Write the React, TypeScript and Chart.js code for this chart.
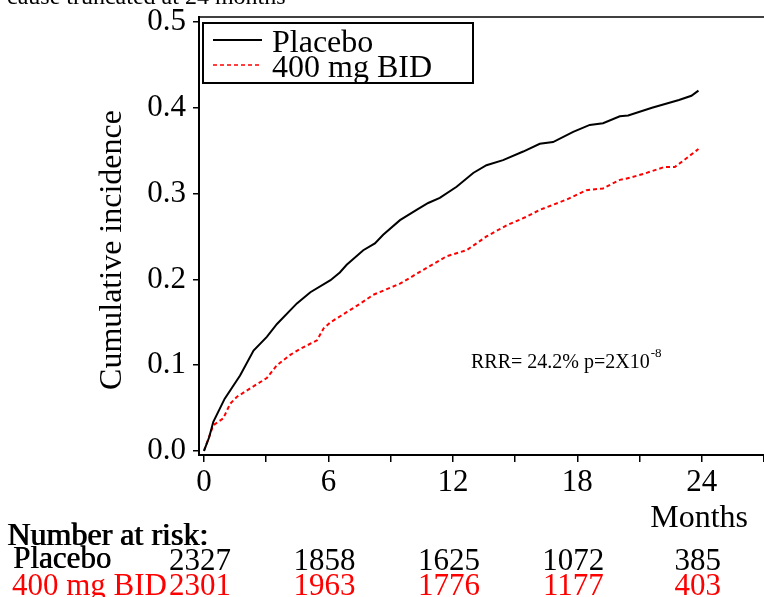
import React, { useEffect, useRef } from "react";
import { Chart, registerables } from "chart.js";

Chart.register(...registerables);

const titleText = "cause truncated at 24 months";
const yAxisTitle = "Cumulative incidence";
const xAxisTitle = "Months";
const seriesNames = ["Placebo", "400 mg BID"];
const seriesColors = ["#000000", "#ff0000"];

const placeboMonths = [0, 0.25, 0.45, 1.0, 1.74, 2.39, 3.03, 3.52, 4.48, 5.13, 6.1, 6.55, 6.88, 7.68, 8.24, 8.64, 9.45, 10.25, 10.81, 11.37, 12.18, 12.98, 13.62, 14.42, 15.39, 16.19, 16.83, 17.8, 18.6, 19.24, 20.05, 20.45, 21.6, 22.9, 23.5, 23.84];
const placeboValues = [0, 0.016, 0.034, 0.061, 0.088, 0.117, 0.133, 0.148, 0.172, 0.185, 0.199, 0.208, 0.217, 0.234, 0.242, 0.252, 0.269, 0.281, 0.289, 0.295, 0.308, 0.324, 0.333, 0.339, 0.349, 0.358, 0.36, 0.372, 0.38, 0.382, 0.39, 0.391, 0.4, 0.409, 0.414, 0.42];

const bidMonths = [0, 0.45, 0.93, 1.26, 1.58, 2.23, 3.03, 3.52, 4.16, 4.64, 5.45, 5.77, 6.1, 6.9, 7.55, 8.16, 9.45, 10.57, 11.7, 12.66, 13.62, 14.59, 15.55, 16.19, 17.48, 18.44, 19.24, 20.05, 20.3, 21.2, 22.2, 22.7, 23.2, 23.84];
const bidValues = [0, 0.03, 0.038, 0.055, 0.063, 0.073, 0.085, 0.1, 0.112, 0.119, 0.129, 0.143, 0.15, 0.162, 0.172, 0.182, 0.195, 0.211, 0.227, 0.234, 0.25, 0.263, 0.273, 0.281, 0.293, 0.304, 0.306, 0.316, 0.317, 0.323, 0.331, 0.331, 0.34, 0.352];

const yTickValues = [0, 0.1, 0.2, 0.3, 0.4, 0.5];
const xTickValues = [0, 3, 6, 9, 12, 15, 18, 21, 24, 27];
const xLabelValues = [0, 6, 12, 18, 24];

const riskHeader = "Number at risk:";
const riskTimes = [0, 6, 12, 18, 24];
const riskPlacebo = [2327, 1858, 1625, 1072, 385];
const riskBid = [2301, 1963, 1776, 1177, 403];

const annotationText = "RRR= 24.2% p=2X10";
const annotationExp = "-8";

const FONT = '"Liberation Serif", "Times New Roman", serif';

const overlayPlugin = {
  id: "overlay",
  afterDraw(chart: any) {
    const ctx = chart.ctx as CanvasRenderingContext2D;
    const area = chart.chartArea;
    const xs = chart.scales.x;
    ctx.save();

    // top frame line
    ctx.strokeStyle = "#000";
    ctx.lineWidth = 1.5;
    ctx.beginPath();
    ctx.moveTo(area.left, area.top);
    ctx.lineTo(area.right, area.top);
    ctx.stroke();

    // title (partly cut off)
    ctx.fillStyle = "#000";
    ctx.textAlign = "left";
    ctx.textBaseline = "alphabetic";
    ctx.font = `24px ${FONT}`;
    ctx.fillText(titleText, 7, 4);

    // y axis title
    ctx.save();
    ctx.translate(113, 250);
    ctx.rotate(-Math.PI / 2);
    ctx.textAlign = "center";
    ctx.textBaseline = "middle";
    ctx.font = `32px ${FONT}`;
    ctx.fillText(yAxisTitle, 0, 0);
    ctx.restore();

    // legend box
    const lx = area.left + 4;
    const ly = area.top + 6;
    ctx.lineWidth = 2;
    ctx.strokeStyle = "#000";
    ctx.strokeRect(lx, ly, 270, 60);
    ctx.font = `32px ${FONT}`;
    ctx.textAlign = "left";
    seriesNames.forEach((name, i) => {
      const yy = ly + 17 + i * 25;
      ctx.strokeStyle = seriesColors[i];
      ctx.lineWidth = i === 0 ? 2 : 1.5;
      ctx.setLineDash(i === 0 ? [] : [4, 3]);
      ctx.beginPath();
      ctx.moveTo(lx + 10, yy);
      ctx.lineTo(lx + 59, yy);
      ctx.stroke();
      ctx.setLineDash([]);
      ctx.fillStyle = "#000";
      ctx.fillText(name, lx + 69, yy + 12);
    });

    // annotation
    ctx.fillStyle = "#000";
    ctx.font = `20px ${FONT}`;
    ctx.fillText(annotationText, 471, 368);
    const w = ctx.measureText(annotationText).width;
    ctx.font = `13px ${FONT}`;
    ctx.fillText(annotationExp, 471 + w + 1, 357);

    // x axis title
    ctx.font = `32px ${FONT}`;
    ctx.textAlign = "right";
    ctx.fillText(xAxisTitle, 748, 527);

    // number at risk
    ctx.textAlign = "left";
    ctx.font = `32px ${FONT}`;
    ctx.fillText(riskHeader, 7, 545);
    ctx.fillText(riskHeader, 8, 545);
    ctx.font = `31px ${FONT}`;
    ctx.fillText(seriesNames[0], 13, 568);
    ctx.fillText(seriesNames[0], 13.6, 568);
    ctx.fillStyle = "#ff0000";
    ctx.fillText(seriesNames[1], 12, 595);
    ctx.textAlign = "center";
    riskTimes.forEach((t, i) => {
      const px = xs.getPixelForValue(t) - 4;
      ctx.fillStyle = "#000";
      ctx.fillText(String(riskPlacebo[i]), px, 570);
      ctx.fillStyle = "#ff0000";
      ctx.fillText(String(riskBid[i]), px, 595);
    });

    ctx.restore();
  },
};

export default function App() {
  const canvasRef = useRef<HTMLCanvasElement | null>(null);

  useEffect(() => {
    if (!canvasRef.current) return;
    const tickFont = { family: FONT, size: 31, lineHeight: 1.2 };
    const chart = new Chart(canvasRef.current, {
      type: "line",
      data: {
        datasets: [
          {
            label: seriesNames[0],
            data: placeboMonths.map((m, i) => ({ x: m, y: placeboValues[i] })),
            borderColor: seriesColors[0],
            borderWidth: 2,
            pointRadius: 0,
            tension: 0,
            fill: false,
          },
          {
            label: seriesNames[1],
            data: bidMonths.map((m, i) => ({ x: m, y: bidValues[i] })),
            borderColor: seriesColors[1],
            borderWidth: 2,
            borderDash: [4, 3],
            pointRadius: 0,
            tension: 0,
            fill: false,
          },
        ],
      },
      options: {
        responsive: false,
        animation: false,
        layout: { padding: { top: 17, left: 0, right: 0, bottom: 0 } },
        plugins: { legend: { display: false }, tooltip: { enabled: false }, title: { display: false } },
        scales: {
          x: {
            type: "linear",
            min: -0.24,
            max: 27,
            afterBuildTicks: (s: any) => {
              s.ticks = xTickValues.map((v) => ({ value: v }));
            },
            afterFit: (s: any) => {
              s.height = 142;
              s.paddingLeft = 0;
              s.paddingRight = 0;
              s.paddingTop = 0;
              s.paddingBottom = 0;
            },
            ticks: {
              autoSkip: false,
              maxRotation: 0,
              minRotation: 0,
              color: "#000",
              font: tickFont,
              padding: 2,
              callback: (v: any) => (xLabelValues.includes(Number(v)) ? String(v) : ""),
            },
            grid: { drawOnChartArea: false, drawTicks: true, tickLength: 7, color: "#000", lineWidth: 1.5 },
            border: { display: true, color: "#000", width: 2 },
          },
          y: {
            type: "linear",
            min: -0.0047,
            max: 0.5058,
            afterBuildTicks: (s: any) => {
              s.ticks = yTickValues.map((v) => ({ value: v }));
            },
            afterFit: (s: any) => {
              s.width = 199;
              s.paddingLeft = 0;
              s.paddingRight = 0;
              s.paddingTop = 0;
              s.paddingBottom = 0;
            },
            ticks: {
              color: "#000",
              font: tickFont,
              padding: 7,
              callback: (v: any) => Number(v).toFixed(1),
            },
            grid: { drawOnChartArea: false, drawTicks: true, tickLength: 6, color: "#000", lineWidth: 1.5 },
            border: { display: true, color: "#000", width: 2 },
          },
        },
      },
      plugins: [overlayPlugin],
    } as any);
    return () => chart.destroy();
  }, []);

  return (
    <div style={{ position: "fixed", left: 0, top: 0, width: 764, height: 597, background: "#fff" }}>
      <canvas ref={canvasRef} width={764} height={597} style={{ display: "block" }} />
    </div>
  );
}
